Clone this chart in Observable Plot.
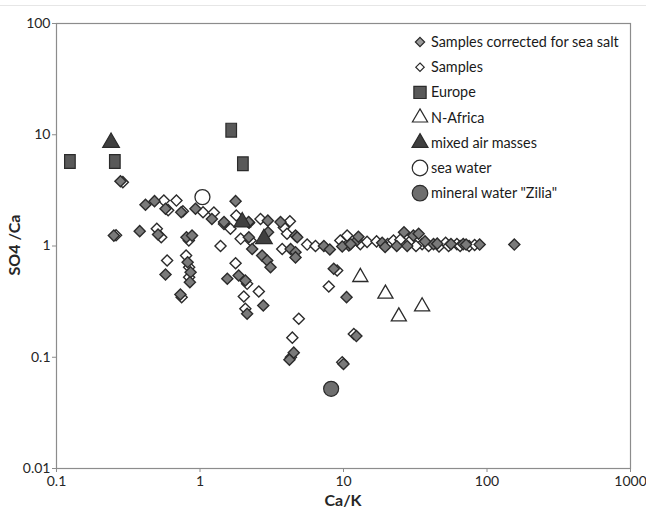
<!DOCTYPE html>
<html>
<head>
<meta charset="utf-8">
<script src="https://cdn.jsdelivr.net/npm/d3@7"></script>
<script src="https://cdn.jsdelivr.net/npm/@observablehq/plot@0.6"></script>
<style>
  body { margin: 0; background: #fff; }
  #chart { position: relative; width: 646px; height: 515px; overflow: hidden; font-family: Lato, "Open Sans", sans-serif; }
  #chart svg { position: absolute; left: 0; top: 0; }
</style>
</head>
<body>
<div id="chart"></div>
<script>
// Axis ticks
const xTicks = [0.1, 1, 10, 100, 1000];
const yTicks = [0.01, 0.1, 1, 10, 100];

// Samples corrected for sea salt (Ca/K, SO4/Ca)
const correctedX = [0.279, 0.417, 0.482, 0.575, 0.74, 0.93, 1.21, 1.77, 2.2, 2.19, 2.31, 0.251, 0.38, 0.51, 0.805, 0.88,
  0.575, 0.82, 0.86, 0.85, 0.73, 1.55, 1.86, 2.07, 2.76, 2.13, 1.47, 2.18, 2.97, 2.98, 3.64, 4.63, 4.76, 4.28, 4.63, 4.63,
  2.71, 2.94, 3.1, 7.3, 8.03, 10.9, 12.4, 8.55, 10.5, 12.3, 10.0, 4.5, 4.2, 9.8, 11.2, 12.7, 18.6, 26.4, 27.8, 30.7, 33.4,
  42.4, 56.1, 68.3, 71.5, 88.9, 155, 19.5, 23.5, 37, 45];
const correctedY = [3.82, 2.35, 2.53, 2.16, 2.01, 2.16, 1.75, 2.53, 1.62, 1.2, 0.94, 1.24, 1.36, 1.27, 1.2, 1.24,
  0.555, 0.715, 0.58, 0.473, 0.366, 0.507, 0.543, 0.49, 0.292, 0.246, 1.64, 1.64, 1.69, 1.33, 1.64, 1.24, 1.2, 0.94, 0.88, 0.79,
  0.82, 0.74, 0.645, 1.0, 0.93, 1.01, 1.12, 0.624, 0.347, 0.155, 0.087, 0.11, 0.095, 0.99, 1.04, 1.21, 1.07, 1.33, 1.0, 1.24, 1.29,
  1.04, 1.04, 1.04, 1.03, 1.03, 1.03, 0.98, 1.0, 1.1, 1.05];

// Samples (uncorrected)
const samplesX = [0.29, 0.56, 0.685, 0.6, 0.76, 1.05, 1.25, 1.47, 1.63, 1.79, 1.92, 2.64, 2.25, 1.39, 0.537, 0.5, 0.26,
  0.836, 0.59, 0.8, 0.84, 0.84, 0.745, 1.77, 2.13, 2.57, 2.02, 2.07, 3.84, 4.04, 4.23, 3.74, 5.58, 6.38, 9.5, 10.6, 13.1,
  14.6, 9.03, 7.9, 4.88, 11.8, 9.8, 4.4, 4.3, 20.3, 22.3, 24.9, 35.3, 39.2, 46.3, 51.5, 61.7, 17, 29, 32, 54, 65, 75, 82];
const samplesY = [3.75, 2.56, 2.56, 2.1, 2.05, 2.01, 2.0, 1.58, 1.43, 1.88, 1.16, 1.75, 1.12, 1.0, 1.2, 1.43, 1.25,
  1.12, 0.74, 0.82, 0.644, 0.525, 0.347, 0.70, 0.457, 0.39, 0.352, 0.273, 1.47, 1.29, 1.67, 0.94, 1.03, 1.0, 1.12, 1.24, 1.04,
  1.09, 0.603, 0.433, 0.222, 0.162, 0.09, 0.15, 0.1, 1.04, 1.12, 1.14, 1.04, 1.0, 0.99, 1.07, 1.04, 1.1, 1.1, 1.0, 1.0, 1.0, 1.0, 1.02];

// Air mass origin and reference waters
const europeX = [0.124, 0.255, 1.65, 1.99];
const europeY = [5.75, 5.75, 11, 5.48];
const nAfricaX = [13.1, 19.6, 24.3, 35.3];
const nAfricaY = [0.525, 0.372, 0.232, 0.286];
const mixedX = [0.24, 1.97, 2.79];
const mixedY = [8.5, 1.64, 1.16];
const seaWaterX = [1.04];
const seaWaterY = [2.75];
const ziliaX = [8.2];
const ziliaY = [0.052];

const legendLabels = ["Samples corrected for sea salt", "Samples", "Europe", "N-Africa",
  "mixed air masses", "sea water", "mineral water \"Zilia\""];

const rows = (xs, ys) => xs.map((x, i) => ({x, y: ys[i]}));

const FONT = 'Lato, "Open Sans", sans-serif';
const OUT = "#2b2b2b";

// A slightly tall box, as the station markers are drawn
const tallSquare = {
  draw(ctx, size) {
    const s = Math.sqrt(size / Math.PI);
    ctx.rect(-s, -1.3 * s, 2 * s, 2.6 * s);
  }
};

const W = 646, H = 515;
const plot = Plot.plot({
  width: W, height: H,
  marginLeft: 56, marginRight: 16, marginTop: 23, marginBottom: 47,
  style: {fontFamily: FONT, fontSize: "14px", color: "#262626", background: "transparent"},
  x: {type: "log", domain: [0.1, 1000]},
  y: {type: "log", domain: [0.01, 100]},
  marks: [
    Plot.frame({stroke: "#8c8c8c", strokeWidth: 1.2}),
    Plot.axisX({ticks: xTicks, tickFormat: d => String(d), label: null, tickSize: 4, tickPadding: 4, stroke: "#8c8c8c"}),
    Plot.axisY({ticks: yTicks, tickFormat: d => String(d), label: null, tickSize: 4, tickPadding: 2, stroke: "#8c8c8c"}),
    Plot.dot(rows(samplesX, samplesY), {x: "x", y: "y", symbol: "diamond2", r: 5, fill: "white", stroke: OUT, strokeWidth: 1.4}),
    Plot.dot(rows(correctedX, correctedY), {x: "x", y: "y", symbol: "diamond2", r: 5, fill: "#7a7a7a", stroke: OUT, strokeWidth: 1.4}),
    Plot.dot(rows(europeX, europeY), {x: "x", y: "y", symbol: tallSquare, r: 5.3, fill: "#595959", stroke: OUT, strokeWidth: 1.2}),
    Plot.dot(rows(nAfricaX, nAfricaY), {x: "x", y: "y", symbol: "triangle", r: 5.6, fill: "white", stroke: OUT, strokeWidth: 1.3}),
    Plot.dot(rows(mixedX, mixedY), {x: "x", y: "y", symbol: "triangle", r: 6.2, fill: "#404040", stroke: OUT, strokeWidth: 1.2}),
    Plot.dot(rows(seaWaterX, seaWaterY), {x: "x", y: "y", symbol: "circle", r: 7.5, fill: "white", stroke: OUT, strokeWidth: 1.3}),
    Plot.dot(rows(ziliaX, ziliaY), {x: "x", y: "y", symbol: "circle", r: 7.5, fill: "#6e6e6e", stroke: OUT, strokeWidth: 1.2})
  ]
});
document.getElementById("chart").appendChild(plot);

// Titles and legend layer
const svg = d3.select("#chart").append("svg")
  .attr("width", W).attr("height", H)
  .style("font-family", FONT)
  .style("pointer-events", "none");

svg.append("line").attr("x1", 0).attr("x2", W).attr("y1", 5.5).attr("y2", 5.5)
  .attr("stroke", "#e6e6e6");

svg.append("text").attr("x", 343).attr("y", 506)
  .attr("text-anchor", "middle").attr("font-weight", "bold").attr("font-size", 16).attr("fill", "#262626")
  .text("Ca/K");

svg.append("text").attr("transform", "translate(20,245) rotate(-90)")
  .attr("text-anchor", "middle").attr("font-weight", "bold").attr("font-size", 16).attr("fill", "#262626")
  .text("SO4 /Ca");

const legendSymbols = [
  {sym: d3.symbolDiamond2, size: 55, fill: "#9a9a9a"},
  {sym: d3.symbolDiamond2, size: 45, fill: "white"},
  {sym: d3.symbolSquare, size: 150, fill: "#595959"},
  {sym: d3.symbolTriangle, size: 100, fill: "white"},
  {sym: d3.symbolTriangle, size: 110, fill: "#404040"},
  {sym: d3.symbolCircle, size: 190, fill: "white"},
  {sym: d3.symbolCircle, size: 190, fill: "#6e6e6e"}
];
const lg = svg.append("g");
const labelNodes = legendLabels.map((label, i) => {
  const cy = 42 + i * 25.2;
  const s = legendSymbols[i];
  lg.append("path").attr("transform", `translate(420,${cy})`)
    .attr("d", d3.symbol(s.sym, s.size)())
    .attr("fill", s.fill).attr("stroke", OUT).attr("stroke-width", 1.2);
  return lg.append("text").attr("x", 431).attr("y", cy).attr("dy", "0.35em")
    .attr("font-size", 15).attr("fill", "#1a1a1a").text(label);
});
// Size the legend text so the longest entry ends just inside the frame
const longest = labelNodes[0].node().getComputedTextLength();
const fitted = Math.min(16, 15 * 188 / longest);
labelNodes.forEach(t => t.attr("font-size", fitted));
</script>
</body>
</html>
